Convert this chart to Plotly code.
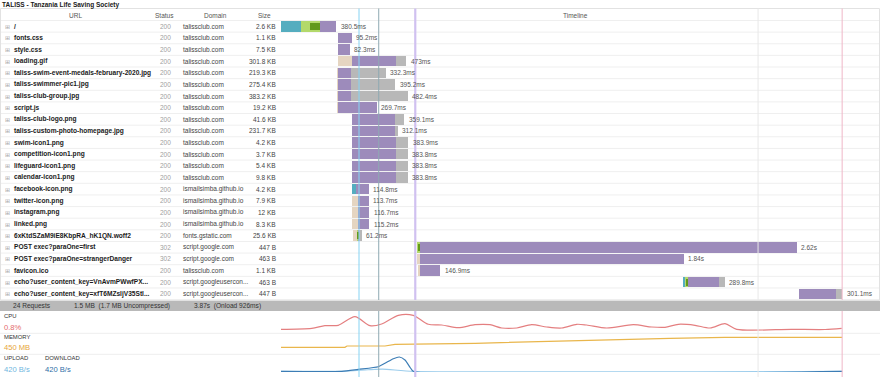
import plotly.graph_objects as go

W, H = 880, 379
FONT = "Liberation Sans, Arial, sans-serif"

title = "TALISS - Tanzania Life Saving Society"
urls = ["/", "fonts.css", "style.css", "loading.gif",
        "taliss-swim-event-medals-february-2020.jpg", "taliss-swimmer-pic1.jpg",
        "taliss-club-group.jpg", "script.js", "taliss-club-logo.png",
        "taliss-custom-photo-homepage.jpg", "swim-icon1.png", "competition-icon1.png",
        "lifeguard-icon1.png", "calendar-icon1.png", "facebook-icon.png",
        "twitter-icon.png", "instagram.png", "linked.png",
        "6xKtdSZaM9iE8KbpRA_hK1QN.woff2", "POST exec?paraOne=first",
        "POST exec?paraOne=strangerDanger", "favicon.ico",
        "echo?user_content_key=VnAvmPWwfPX...", "echo?user_content_key=xfT6MZsljV35Stl..."]
statuses = ["200"] * 19 + ["302", "302"] + ["200"] * 3
domains = ["talissclub.com"] * 14 + ["ismailsimba.github.io"] * 4 + \
          ["fonts.gstatic.com", "script.google.com", "script.google.com", "talissclub.com",
           "script.googleusercon...", "script.googleusercon..."]
sizes = ["2.6 KB", "1.1 KB", "7.5 KB", "301.8 KB", "219.3 KB", "275.4 KB", "383.2 KB",
         "19.2 KB", "41.6 KB", "231.7 KB", "4.2 KB", "3.7 KB", "5.4 KB", "9.8 KB",
         "4.2 KB", "7.9 KB", "12 KB", "8.3 KB", "25.6 KB", "447 B", "463 B", "1.1 KB",
         "463 B", "447 B"]

# timings (ms)
start_ms = [0, 391, 391, 391, 391, 391, 391, 391, 492, 492, 492, 492, 492, 492,
            492, 492, 492, 492, 494.5, 936, 936, 950, 2772, 3570]
blocked_ms = [0, 0, 0, 98.6, 4, 4, 4, 4, 0, 0, 0, 0, 0, 0,
              0, 37, 37, 37, 29.7, 0, 22.8, 9, 0, 0]
dns_ms = [136, 0, 0, 0, 0, 0, 0, 0, 0, 0, 0, 0, 0, 0,
          25.5, 0, 0, 0, 0, 0, 0, 0, 13.8, 0]
connect_ms = [133, 0, 0, 0, 0, 0, 0, 0, 0, 0, 0, 0, 0, 0,
              0, 0, 0, 0, 11.7, 22.8, 0, 0, 18.6, 0]
ssl_ms = [69, 0, 0, 0, 0, 0, 0, 0, 0, 0, 0, 0, 0, 0,
          0, 0, 0, 0, 7, 13.8, 0, 0, 10, 0]
wait_ms = [111.5, 95.2, 82.3, 301, 90, 90, 90, 265.7, 294.5, 299, 299, 299, 299, 299,
           89.3, 76.7, 79.7, 78.2, 5, 2597.2, 1817.2, 137.9, 216, 257]
receive_ms = [0, 0, 0, 73.4, 238.3, 301.2, 388.4, 0, 64.6, 13.1, 84.9, 84.8, 84.8, 84.8,
              0, 0, 0, 0, 14.8, 0, 0, 0, 41.4, 44.1]
total_ms = [380.5, 95.2, 82.3, 473, 332.3, 395.2, 482.4, 269.7, 359.1, 312.1, 383.9,
            383.8, 383.8, 383.8, 114.8, 113.7, 116.7, 115.2, 61.2, 2620, 1840, 146.9,
            289.8, 301.1]

# page events (ms)
event_ms = [538, 674, 926, 3290, 3870]
event_colors = ["#86d3f3", "#8fa9b2", "#d0c1f0", "#e8e8e8", "#efb7c8"]
event_widths = [1, 1, 2.2, 1, 1]

# resource graphs (relative level 0-100 of each strip)
cpu_t = [0, 212, 303, 395, 510, 614, 694, 809, 912, 1016, 1108, 1223, 1338, 1441, 1522,
         1626, 1729, 1832, 1936, 2039, 2108, 2246, 2430, 2557, 2648, 2740, 2855, 2959,
         3062, 3143, 3522, 3752, 3867]
cpu_level = [18.5, 23.5, 36.5, 38.5, 81.5, 36.5, 45, 88.5, 88.5, 43.5, 40, 26.5, 41.5,
             41.5, 25, 25, 41.5, 30, 25, 43.5, 40, 25, 41.5, 30, 28.5, 43.5, 38.5, 25,
             46.5, 18.5, 18.5, 17.5, 23.5]
mem_t = [0, 441, 455, 717, 786, 1338, 2683, 3062, 3870]
mem_level = [27.6, 27.6, 35.3, 35.3, 45.3, 51.2, 80.6, 86.5, 86.5]
dl_t = [0, 419, 533, 671, 717, 775, 816, 855, 890, 912, 3870]
dl_level = [4.4, 4.4, 16.9, 33.1, 54.4, 83.1, 93.8, 75, 29.4, 4.4, 4.4]
ul_t = [0, 419, 600, 700, 912, 3870]
ul_level = [4.4, 4.4, 14, 18, 4.4, 4.4]

summary = ["24 Requests", "1.5 MB  (1.7 MB Uncompressed)", "3.87s  (Onload 926ms)"]
cpu_text, mem_text, up_text, down_text = "0.8%", "450 MB", "420 B/s", "420 B/s"

# ---------------- layout helpers ----------------
PX_PER_MS = 0.145
T0 = 281
ROW0, ROWH = 26.3, 11.63
n = len(urls)
rows = list(range(n))


def xp(p):
    return p / W


def yp(p):
    return 1 - p / H


fig = go.Figure()


def seg_bar(vals, bases, color, width=0.9, name=""):
    fig.add_trace(go.Bar(orientation="h", y=rows, x=vals, base=bases, width=width,
                         marker=dict(color=color, line=dict(width=0)),
                         name=name, hoverinfo="skip", showlegend=False))


cum = list(start_ms)
bases = {}
for name, vals, col in [("blocked", blocked_ms, "#e5d5c1"), ("dns", dns_ms, "#55adbf"),
                        ("connect", connect_ms, "#b3d96b"), ("wait", wait_ms, "#9d8bbb"),
                        ("receive", receive_ms, "#b8b8b8")]:
    b = list(cum)
    bases[name] = b
    seg_bar(vals, b, col, name=name)
    cum = [c + v for c, v in zip(cum, vals)]
ssl_base = [b + c - s for b, c, s in zip(bases["connect"], connect_ms, ssl_ms)]
seg_bar(ssl_ms, ssl_base, "#62991c", width=0.6, name="ssl")

# resource lines
fig.add_trace(go.Scatter(x=cpu_t, y=cpu_level, yaxis="y2", mode="lines",
                         line=dict(color="#e47f80", width=1.2, shape="spline", smoothing=0.8),
                         hoverinfo="skip", showlegend=False))
fig.add_trace(go.Scatter(x=mem_t, y=mem_level, yaxis="y3", mode="lines",
                         line=dict(color="#e9b64c", width=1.2), hoverinfo="skip",
                         showlegend=False))
fig.add_trace(go.Scatter(x=ul_t, y=ul_level, yaxis="y4", mode="lines",
                         line=dict(color="#9ccdec", width=1.2, shape="spline", smoothing=0.6),
                         hoverinfo="skip", showlegend=False))
fig.add_trace(go.Scatter(x=dl_t, y=dl_level, yaxis="y4", mode="lines",
                         line=dict(color="#3c7db5", width=1.2, shape="spline", smoothing=0.6),
                         hoverinfo="skip", showlegend=False))

shapes = []
# outer table box
shapes.append(dict(type="rect", xref="paper", yref="paper", x0=xp(0.5), x1=xp(879.5),
                   y0=yp(300), y1=yp(8.5), line=dict(color="#e2e2e2", width=1),
                   layer="below"))
# row separators
for i in range(-1, n):
    shapes.append(dict(type="line", xref="paper", yref="y", x0=xp(1), x1=xp(879),
                       y0=i + 0.5, y1=i + 0.5, line=dict(color="#efefef", width=1),
                       layer="below"))
# summary band
shapes.append(dict(type="rect", xref="paper", yref="paper", x0=0, x1=1,
                   y0=yp(311), y1=yp(300.7), fillcolor="#b9b9b9", line=dict(width=0),
                   layer="below"))
# lower separators
for p in [333.3, 354.3]:
    shapes.append(dict(type="line", xref="paper", yref="paper", x0=0, x1=1,
                       y0=yp(p), y1=yp(p), line=dict(color="#eeeeee", width=1),
                       layer="below"))
# event lines
for t, c, w in zip(event_ms, event_colors, event_widths):
    for a, b in [(8.5, 300), (311, 377)]:
        shapes.append(dict(type="line", xref="x", yref="paper", x0=t, x1=t,
                           y0=yp(b), y1=yp(a), line=dict(color=c, width=w),
                           layer="above"))

ann = []


def txt(x, y, s, size=6.5, color="#333", anchor="left", bold=False, xref="paper",
        yref="paper", family=FONT, xshift=0):
    ann.append(dict(x=x, y=y, xref=xref, yref=yref, text=("<b>%s</b>" % s) if bold else s,
                    showarrow=False, xanchor=anchor, yanchor="middle", xshift=xshift,
                    font=dict(size=size, color=color, family=family), borderpad=0))


txt(xp(0.5), yp(4.6), title, size=6.5, color="#1a1a1a", bold=True)
txt(xp(75), yp(15.3), "URL", color="#555", anchor="center")
txt(xp(164.7), yp(15.3), "Status", color="#555", anchor="center")
txt(xp(215.3), yp(15.3), "Domain", color="#555", anchor="center")
txt(xp(264.3), yp(15.3), "Size", color="#555", anchor="center")
txt(xp(575.5), yp(15.3), "Timeline", color="#555", anchor="center")

for i in rows:
    txt(xp(7.2), i, "⊞", size=6, color="#a8a8a8", anchor="center", yref="y",
        family="DejaVu Sans")
    txt(xp(12.5), i, urls[i], size=6.6, color="#1a1a1a", bold=True, yref="y")
    txt(xp(165), i, statuses[i], color="#a0a0a0", anchor="center", yref="y")
    txt(xp(182.3), i, domains[i], color="#444", yref="y")
    txt(xp(276.8), i, sizes[i], color="#444", anchor="right", yref="y")
    lab = ("%.2fs" % (total_ms[i] / 1000)) if total_ms[i] >= 1000 else ("%gms" % total_ms[i])
    txt(start_ms[i] + total_ms[i], i, lab, color="#555", xref="x", yref="y", xshift=3.5)

txt(xp(11.7), yp(305.8), summary[0], size=6.6, color="#333")
txt(xp(72.7), yp(305.8), summary[1], size=6.6, color="#333")
txt(xp(192.7), yp(305.8), summary[2], size=6.6, color="#333")

txt(xp(2.5), yp(316), "CPU", size=5.9, color="#333")
txt(xp(2.5), yp(327.7), cpu_text, size=7.6, color="#e46b6b")
txt(xp(2.5), yp(337.3), "MEMORY", size=5.9, color="#333")
txt(xp(2.5), yp(347.7), mem_text, size=7.6, color="#e7a53a")
txt(xp(2.5), yp(358), "UPLOAD", size=5.9, color="#333")
txt(xp(44), yp(358), "DOWNLOAD", size=5.9, color="#333")
txt(xp(2.5), yp(369), up_text, size=7.6, color="#6fb6e0")
txt(xp(44), yp(369), down_text, size=7.6, color="#2f6ea6")

x_max = (W - T0) / PX_PER_MS
y_top = -ROW0 / ROWH
y_bot = (H - ROW0) / ROWH

hidden = dict(showgrid=False, zeroline=False, showticklabels=False, showline=False,
              ticks="", fixedrange=True)
fig.update_layout(
    width=W, height=H, margin=dict(l=0, r=0, t=0, b=0),
    paper_bgcolor="white", plot_bgcolor="rgba(0,0,0,0)",
    barmode="overlay", bargap=0, showlegend=False,
    xaxis=dict(domain=[T0 / W, 1], range=[0, x_max], **hidden),
    yaxis=dict(domain=[0, 1], range=[y_bot, y_top], anchor="x", **hidden),
    yaxis2=dict(domain=[yp(333), yp(313)], range=[0, 100], anchor="x", **hidden),
    yaxis3=dict(domain=[yp(352), yp(335)], range=[0, 100], anchor="x", **hidden),
    yaxis4=dict(domain=[yp(372), yp(356)], range=[0, 100], anchor="x", **hidden),
    shapes=shapes, annotations=ann,
)

fig.write_html("out.html", config={"displayModeBar": False},
               post_script="document.body.style.margin='0';document.body.style.overflow='hidden';")
